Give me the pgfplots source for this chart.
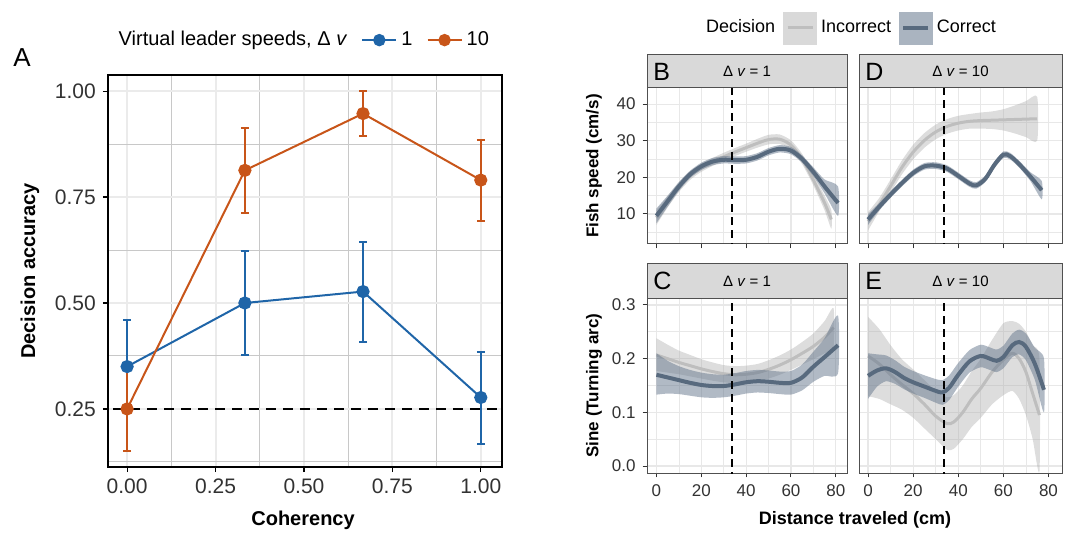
\documentclass[border=0pt]{standalone}
\usepackage{fontspec}
\setmainfont{Liberation Sans}
\usepackage{pgfplots}
\usepackage{pgfplotstable}
\pgfplotsset{compat=1.18}

\definecolor{blueA}{RGB}{31,101,168}
\definecolor{orangeA}{RGB}{200,85,25}
\definecolor{gridmaj}{RGB}{235,235,235}
\definecolor{gridmin}{RGB}{200,200,200}
\definecolor{gridR}{RGB}{232,232,232}
\definecolor{framegray}{RGB}{80,80,80}
\definecolor{stripgray}{RGB}{217,217,217}
\definecolor{labgray}{RGB}{50,50,50}
\definecolor{corline}{RGB}{88,106,126}
\definecolor{corfill}{RGB}{100,118,140}
\definecolor{incline}{RGB}{190,190,190}
\definecolor{incfill}{RGB}{170,170,170}

% smoothed fits (distance, fitted value)
\pgfplotstableread{
x y
0 9.5
5 13.5
10 17.5
15 20.8
20 23.0
25 24.3
30 24.8
35 24.7
40 24.8
45 25.6
50 27.0
55 27.8
60 27.3
65 25.0
70 21.5
75 17.5
81 13.0
}\Bcor
\pgfplotstableread{
x y
0 9.0
5 13.3
10 17.3
15 20.5
20 22.6
25 24.2
30 25.6
35 26.9
40 28.1
45 29.3
50 30.3
55 30.4
60 28.8
65 25.0
70 19.3
75 13.0
78 8.5
}\Binc
\pgfplotstableread{
x y
0 8.5
5 12.0
10 15.3
15 18.4
20 21.2
25 23.0
30 23.2
35 22.4
40 20.4
45 18.3
48 17.8
52 19.6
56 23.4
60 26.2
63 25.8
67 23.6
72 20.2
77 16.5
}\Dcor
\pgfplotstableread{
x y
0 8.0
5 12.6
10 17.6
15 22.7
20 26.9
25 30.1
30 32.4
35 33.9
40 34.8
45 35.3
50 35.5
55 35.6
60 35.7
65 35.8
70 35.9
75 36.0
}\Dinc
\pgfplotstableread{
x y
0 0.170
5 0.165
10 0.160
15 0.155
20 0.151
25 0.149
30 0.149
35 0.152
40 0.156
45 0.158
50 0.157
55 0.155
60 0.155
65 0.165
70 0.185
75 0.203
81 0.225
}\Ccor
\pgfplotstableread{
x y
0 0.207
5 0.200
10 0.193
15 0.187
20 0.181
25 0.176
30 0.172
35 0.170
40 0.171
45 0.174
50 0.180
55 0.188
60 0.198
65 0.210
70 0.223
75 0.240
79 0.258
}\Cinc
\pgfplotstableread{
x y
0 0.168
4 0.178
8 0.182
12 0.175
16 0.164
20 0.156
25 0.148
30 0.140
33 0.137
36 0.146
40 0.170
45 0.195
50 0.205
54 0.200
57 0.196
60 0.203
64 0.225
67 0.231
70 0.222
74 0.190
78 0.142
}\Ecor
\pgfplotstableread{
x y
0 0.205
5 0.190
10 0.170
15 0.152
20 0.135
25 0.115
30 0.093
35 0.079
38 0.082
42 0.100
46 0.125
50 0.145
55 0.175
60 0.198
64 0.210
67 0.200
70 0.175
73 0.135
76 0.095
}\Einc

% band: upper edge left to right, then lower edge right to left
\newcommand{\band}[3]{%
  \addplot[fill=#1, fill opacity=#2, draw=none, smooth, tension=0.4, forget plot] coordinates {#3};
}
\newcommand{\fit}[2]{%
  \addplot[#1, smooth, forget plot] table[x=x,y=y]{#2};
}
% dashed marker at 33.5 cm, spanning y from #1 to #2
\newcommand{\cutline}[2]{%
  \addplot[black, line width=1pt, dash pattern=on 4pt off 2.5pt, forget plot] coordinates {(33.5,#1) (33.5,#2)};
}

\pgfplotsset{
  facet/.style={
    scale only axis, anchor=south west,
    axis line style={draw=framegray, line width=0.5pt},
    tick align=outside, tick pos=left,
    major tick length=2.2pt, minor tick length=0pt,
    tick style={color=labgray, line width=0.5pt},
    grid=both,
    major grid style={color=gridR, line width=0.6pt},
    minor grid style={color=gridR, line width=0.35pt},
    ticklabel style={font=\fontsize{8.5}{9}\selectfont, color=labgray},
    /pgf/number format/assume math mode=true,
    xmin=-4.2, xmax=85,
    xtick={0,20,40,60,80}, minor xtick={10,30,50,70},
  },
  speed/.style={facet, height=78pt, ymin=1.8, ymax=44.4,
    ytick={10,20,30,40}, minor ytick={5,15,25,35}, xticklabels={}},
  sine/.style={facet, height=87.5pt, ymin=-0.013, ymax=0.313,
    ytick={0,0.1,0.2,0.3}, minor ytick={0.05,0.15,0.25},
    yticklabel style={/pgf/number format/.cd, fixed, fixed zerofill, precision=1}},
  ylab/.style={ylabel style={at={(axis description cs:-0.265,0.5)}, anchor=center,
    font=\fontsize{8.5}{9}\selectfont\bfseries}},
  noy/.style={yticklabels={}, major y tick style={draw=none}, xmin=-4, xmax=86},
  inc/.style={incline, line width=1.5pt},
  cor/.style={corline, line width=2pt},
}

\begin{document}
\begin{tikzpicture}
\path[use as bounding box] (0,0) rectangle (534pt,-266.5pt);

% panel A
\begin{axis}[
  name=A, scale only axis, anchor=south west, at={(54pt,-233.5pt)},
  width=197pt, height=196pt,
  xmin=-0.054, xmax=1.06, ymin=0.113, ymax=1.038,
  xtick={0,0.25,0.5,0.75,1}, ytick={0.25,0.5,0.75,1},
  minor xtick={0.125,0.375,0.625,0.875}, minor ytick={0.125,0.375,0.625,0.875},
  grid=both,
  major grid style={color=gridmaj, line width=1pt},
  minor grid style={color=gridmin, line width=0.5pt},
  axis line style={black, line width=1pt},
  tick align=outside, tick pos=left,
  major tick length=2.6pt, minor tick length=0pt,
  tick style={black, line width=0.6pt},
  ticklabel style={font=\fontsize{10.5}{12}\selectfont, color=labgray},
  xticklabel style={/pgf/number format/.cd, fixed, fixed zerofill, precision=2},
  yticklabel style={/pgf/number format/.cd, fixed, fixed zerofill, precision=2},
  /pgf/number format/assume math mode=true,
  xlabel={Coherency}, ylabel={Decision accuracy},
  xlabel style={at={(axis description cs:0.495,-0.135)}, anchor=center, font=\fontsize{10}{12}\selectfont\bfseries},
  ylabel style={at={(axis description cs:-0.198,0.5)}, anchor=center, font=\fontsize{10}{12}\selectfont\bfseries},
  legend columns=3,
  legend style={draw=none, fill=none, at={(axis description cs:0.497,1.089)}, anchor=center,
    font=\fontsize{10}{12}\selectfont, /tikz/every even column/.append style={column sep=5pt}},
]
\addplot[black, line width=1pt, dash pattern=on 5pt off 3.5pt, forget plot] coordinates {(-1,0.25) (2,0.25)};
\addlegendimage{empty legend}
\addlegendentry{Virtual leader speeds, Δ \textit{v}}
\addlegendimage{blueA, line width=1pt, mark=*, mark size=2.6pt}
\addlegendentry{1}
\addlegendimage{orangeA, line width=1pt, mark=*, mark size=2.6pt}
\addlegendentry{10}
\addplot[blueA, line width=1pt, mark=*, mark size=2.8pt, forget plot,
  error bars/.cd, y dir=both, y explicit,
  error bar style={line width=1pt},
  error mark options={rotate=90, mark size=2pt, line width=1pt}]
  coordinates {
  (0,0.350) += (0,0.110) -= (0,0.110)
  (0.333,0.500) += (0,0.122) -= (0,0.123)
  (0.667,0.527) += (0,0.118) -= (0,0.118)
  (1,0.277) += (0,0.108) -= (0,0.110)
};
\addplot[orangeA, line width=1pt, mark=*, mark size=2.8pt, forget plot,
  error bars/.cd, y dir=both, y explicit,
  error bar style={line width=1pt},
  error mark options={rotate=90, mark size=2pt, line width=1pt}]
  coordinates {
  (0,0.250) += (0,0.100) -= (0,0.100)
  (0.333,0.813) += (0,0.100) -= (0,0.100)
  (0.667,0.947) += (0,0.053) -= (0,0.053)
  (1,0.790) += (0,0.095) -= (0,0.097)
};
\end{axis}
\node[font=\fontsize{13}{13}\selectfont] at (11pt,-29pt) {A};

% panel B: speed, dv = 1
\begin{axis}[speed, ylab, name=B, at={(323.5pt,-122pt)}, width=100pt,
  ylabel={Fish speed (cm/s)},
  legend columns=3,
  legend style={draw=none, fill=none, at={(axis description cs:1.02,1.385)}, anchor=center,
    font=\fontsize{9}{10}\selectfont, /tikz/every even column/.append style={column sep=2pt}},
]
\band{incfill}{0.4}{(0,11.0)(5,14.8)(10,18.6)(15,21.7)(20,23.7)(25,25.3)(30,26.7)(35,28.0)(40,29.2)(45,30.5)(50,31.6)(55,31.7)(60,30.1)(65,26.4)(70,20.8)(75,15.0)(78,11.0)
  (78,6.0)(75,11.0)(70,17.8)(65,23.6)(60,27.5)(55,29.1)(50,29.0)(45,28.1)(40,27.0)(35,25.8)(30,24.5)(25,23.1)(20,21.5)(15,19.3)(10,16.0)(5,11.8)(0,7.0)}
\fit{inc}{\Binc}
\band{corfill}{0.5}{(0,11.5)(5,15.0)(10,18.7)(15,21.8)(20,24.0)(25,25.3)(30,25.8)(35,25.7)(40,25.8)(45,26.6)(50,28.0)(55,28.8)(60,28.3)(65,26.0)(70,22.7)(75,19.4)(81,17.5)
  (81,9.5)(75,15.6)(70,20.3)(65,24.0)(60,26.3)(55,26.8)(50,26.0)(45,24.6)(40,23.8)(35,23.7)(30,23.8)(25,23.3)(20,22.0)(15,19.8)(10,16.3)(5,12.0)(0,7.5)}
\fit{cor}{\Bcor}
\cutline{0}{50}
\addlegendimage{empty legend}
\addlegendentry{Decision}
\addlegendimage{legend image code/.code={
  \fill[stripgray] (0pt,-8pt) rectangle (16.5pt,8pt);
  \draw[incline, line width=1.5pt] (2pt,0pt) -- (14.5pt,0pt);}}
\addlegendentry{Incorrect}
\addlegendimage{legend image code/.code={
  \fill[corfill!55!white] (0pt,-8pt) rectangle (16.5pt,8pt);
  \draw[corline, line width=2pt] (2pt,0pt) -- (14.5pt,0pt);}}
\addlegendentry{Correct}
\end{axis}

% panel D: speed, dv = 10
\begin{axis}[speed, noy, name=D, at={(429.5pt,-122pt)}, width=101.5pt]
\band{incfill}{0.4}{(0,10.5)(5,14.4)(10,19.4)(15,24.6)(20,28.9)(25,32.1)(30,34.4)(35,35.9)(40,36.8)(45,37.3)(50,37.7)(55,38.0)(60,38.6)(65,39.6)(70,40.8)(75,42.0)
  (75,30.0)(70,31.0)(65,32.0)(60,32.8)(55,33.2)(50,33.3)(45,33.3)(40,32.8)(35,31.9)(30,30.4)(25,28.1)(20,24.9)(15,20.8)(10,15.8)(5,10.8)(0,5.5)}
\fit{inc}{\Dinc}
\band{corfill}{0.5}{(0,10.0)(5,13.0)(10,16.2)(15,19.3)(20,22.1)(25,23.9)(30,24.1)(35,23.3)(40,21.3)(45,19.2)(48,18.7)(52,20.5)(56,24.3)(60,27.1)(63,26.7)(67,24.5)(72,21.4)(77,19.0)
  (77,14.0)(72,19.0)(67,22.7)(63,24.9)(60,25.3)(56,22.5)(52,18.7)(48,16.9)(45,17.4)(40,19.5)(35,21.5)(30,22.3)(25,22.1)(20,20.3)(15,17.5)(10,14.4)(5,11.0)(0,7.0)}
\fit{cor}{\Dcor}
\cutline{0}{50}
\end{axis}

% panel C: turning, dv = 1
\begin{axis}[sine, ylab, name=C, at={(323.5pt,-236.5pt)}, width=100pt,
  ylabel={Sine (Turning arc)}]
\band{incfill}{0.4}{(0,0.238)(5,0.226)(10,0.215)(15,0.207)(20,0.199)(25,0.193)(30,0.188)(35,0.186)(40,0.187)(45,0.190)(50,0.197)(55,0.206)(60,0.217)(65,0.231)(70,0.247)(75,0.270)(79,0.294)
  (79,0.222)(75,0.210)(70,0.199)(65,0.189)(60,0.179)(55,0.170)(50,0.163)(45,0.158)(40,0.155)(35,0.154)(30,0.156)(25,0.159)(20,0.163)(15,0.167)(10,0.171)(5,0.174)(0,0.177)}
\fit{inc}{\Cinc}
\band{corfill}{0.5}{(0,0.210)(5,0.196)(10,0.186)(15,0.179)(20,0.174)(25,0.171)(30,0.170)(35,0.173)(40,0.177)(45,0.179)(50,0.178)(55,0.176)(60,0.177)(65,0.189)(70,0.213)(75,0.238)(81,0.280)
  (81,0.173)(75,0.168)(70,0.157)(65,0.141)(60,0.133)(55,0.134)(50,0.136)(45,0.137)(40,0.135)(35,0.131)(30,0.128)(25,0.127)(20,0.128)(15,0.131)(10,0.134)(5,0.135)(0,0.133)}
\fit{cor}{\Ccor}
\cutline{-0.05}{0.35}
\end{axis}

% panel E: turning, dv = 10
\begin{axis}[sine, noy, name=E, at={(429.5pt,-236.5pt)}, width=101.5pt]
\band{incfill}{0.4}{(0,0.278)(5,0.255)(10,0.225)(15,0.199)(20,0.180)(25,0.160)(30,0.140)(35,0.128)(38,0.132)(42,0.150)(46,0.177)(50,0.200)(55,0.235)(60,0.266)(64,0.270)(67,0.265)(70,0.250)(73,0.225)(76,0.200)
  (76,-0.010)(73,0.050)(70,0.095)(67,0.125)(64,0.140)(60,0.132)(55,0.115)(50,0.090)(46,0.073)(42,0.050)(38,0.032)(35,0.030)(30,0.050)(25,0.070)(20,0.090)(15,0.105)(10,0.115)(5,0.125)(0,0.130)}
\fit{inc}{\Einc}
\band{corfill}{0.5}{(0,0.210)(4,0.208)(8,0.206)(12,0.197)(16,0.185)(20,0.177)(25,0.169)(30,0.162)(33,0.160)(36,0.169)(40,0.192)(45,0.216)(50,0.226)(54,0.221)(57,0.217)(60,0.224)(64,0.247)(67,0.254)(70,0.247)(74,0.220)(78,0.200)
  (78,0.100)(74,0.160)(70,0.197)(67,0.208)(64,0.203)(60,0.182)(57,0.175)(54,0.179)(50,0.184)(45,0.174)(40,0.148)(36,0.123)(33,0.114)(30,0.118)(25,0.127)(20,0.135)(16,0.143)(12,0.153)(8,0.158)(4,0.148)(0,0.125)}
\fit{cor}{\Ecor}
\cutline{-0.05}{0.35}
\end{axis}

% facet strips
\foreach \ax/\lab/\dv/\h in {B/B/1/16.5pt, D/D/10/16.5pt, C/C/1/17pt, E/E/10/17pt}{
  \draw[fill=stripgray, draw=framegray, line width=0.5pt] (\ax.north west) rectangle ([yshift=\h]\ax.north east);
  \node[anchor=west, font=\fontsize{12.5}{13}\selectfont, inner sep=0pt] at ([xshift=3pt, yshift=0.5*\h]\ax.north west) {\lab};
  \node[font=\fontsize{7.5}{8}\selectfont, inner sep=0pt] at ([yshift=0.5*\h]\ax.north) {Δ \textit{v} = \dv};
}

\node[font=\fontsize{9}{10}\selectfont\bfseries] at (427.5pt,-260pt) {Distance traveled (cm)};
\end{tikzpicture}
\end{document}
